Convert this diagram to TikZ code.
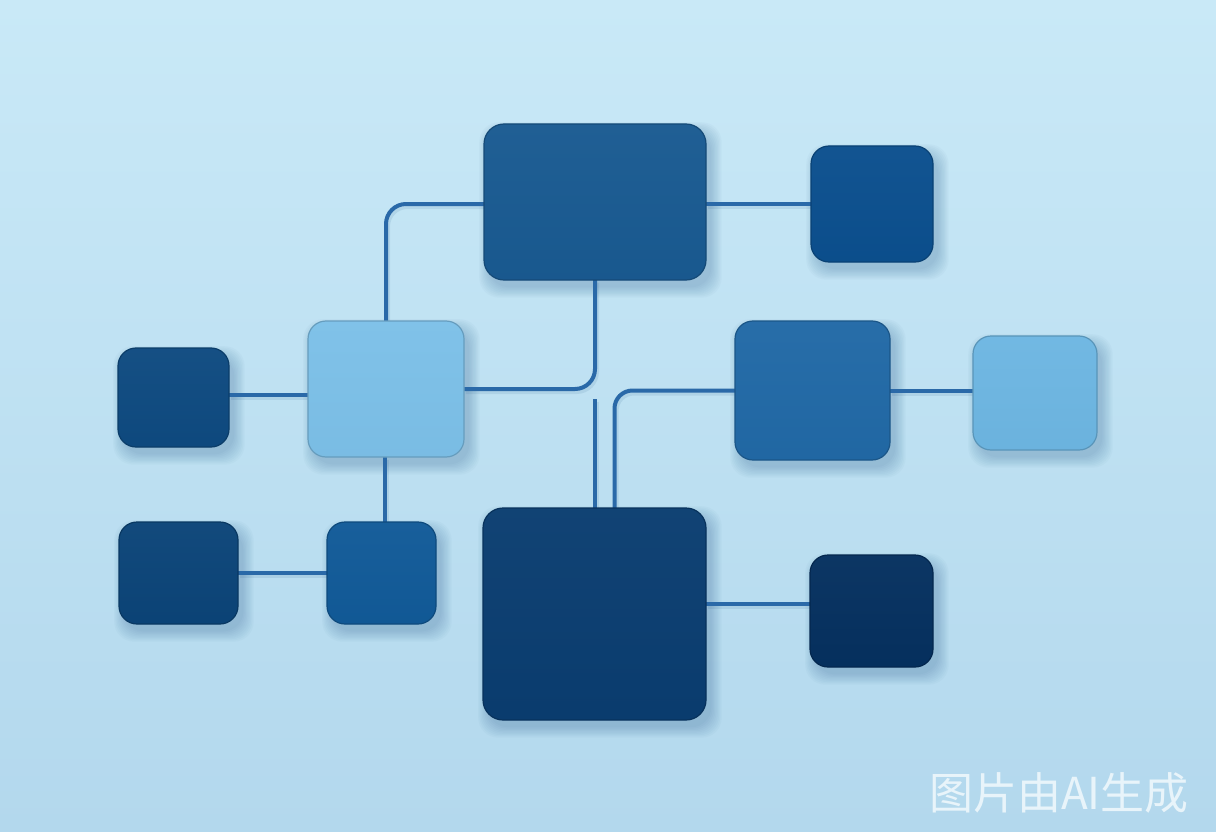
\documentclass[tikz,border=0pt]{standalone}
\usepackage{fontspec}
\newfontfamily\cjk{Noto Sans CJK SC}
\pgfdeclarelayer{bg}
\pgfdeclarelayer{shad}
\pgfdeclarelayer{lines}
\pgfsetlayers{bg,shad,lines,main}
\definecolor{bgtop}{HTML}{C9E9F7}
\definecolor{bgbot}{HTML}{B3D8ED}
\definecolor{linec}{HTML}{2A69A8}
\definecolor{shadc}{HTML}{1A4F80}
\definecolor{wmc}{HTML}{E8F4FA}
\definecolor{cTop}{HTML}{195A91}
\definecolor{cTR}{HTML}{0B4F8E}
\definecolor{cLight}{HTML}{7CC0E8}
\definecolor{cFL}{HTML}{0E4A80}
\definecolor{cMR}{HTML}{2169A6}
\definecolor{cFR}{HTML}{6DB6E2}
\definecolor{cBL}{HTML}{0B4478}
\definecolor{cBML}{HTML}{115A98}
\definecolor{cBB}{HTML}{0A3D70}
\definecolor{cBR}{HTML}{05305F}
\tikzset{
  box/.style={rectangle, rounded corners=18pt, inner sep=0pt, outer sep=0pt, anchor=north west,
    top color=#1!97!white, bottom color=#1!98!black, draw=#1!82!black, line width=1.2pt},
  conn/.style={draw=linec, line width=4pt},
  connsh/.style={draw=shadc, opacity=0.10, line width=5pt},
  shadowpiece/.style={fill=shadc, opacity=0.028, rounded corners=20pt}
}
\begin{document}
\begin{tikzpicture}[x=1pt, y=-1pt]
\begin{pgfonlayer}{bg}
\shade[top color=bgtop, bottom color=bgbot] (0,0) rectangle (1216,832);
\end{pgfonlayer}
\useasboundingbox (0,0) rectangle (1216,832);

\node[box=cTop, minimum width=222pt, minimum height=156pt, rounded corners=20pt] (top) at (484,124) {};
\node[box=cTR, minimum width=122pt, minimum height=116pt] (tr) at (811,146) {};
\node[box=cLight, minimum width=156pt, minimum height=136pt] (light) at (308,321) {};
\node[box=cFL, minimum width=111pt, minimum height=99pt] (fl) at (118,348) {};
\node[box=cMR, minimum width=155pt, minimum height=139pt] (mr) at (735,321) {};
\node[box=cFR, minimum width=124pt, minimum height=114pt] (fr) at (973,336) {};
\node[box=cBL, minimum width=119pt, minimum height=102pt] (bl) at (119,522) {};
\node[box=cBML, minimum width=109pt, minimum height=102pt] (bml) at (327,522) {};
\node[box=cBB, minimum width=223pt, minimum height=212pt, rounded corners=20pt] (bb) at (483,508) {};
\node[box=cBR, minimum width=123pt, minimum height=112pt] (br) at (810,555) {};

\coordinate (midstart) at (595,399);

\begin{pgfonlayer}{shad}
\foreach \n in {top,tr,light,fl,mr,fr,bl,bml,bb,br}{
  \foreach \i in {1,...,9}{
    \fill[shadowpiece]
      ([xshift={6pt-\i*1.2pt}, yshift={-9pt+\i*1.2pt}]\n.north west)
      rectangle ([xshift={4pt+\i*1.3pt}, yshift={-6pt-\i*1.3pt}]\n.south east);
  }
}
\end{pgfonlayer}

\begin{pgfonlayer}{lines}
\begin{scope}[transform canvas={xshift=1.5pt, yshift=-2.5pt}]
\draw[connsh, rounded corners=20pt] (light.north) |- ([yshift=-2pt]top.west);
\draw[connsh] ([yshift=-2pt]top.east) -- ([yshift=-2pt]top.east -| tr.west);
\draw[connsh, rounded corners=20pt] (top.south) |- (light.east);
\draw[connsh] (midstart) -- (midstart |- bb.north);
\draw[connsh, rounded corners=18pt] ([xshift=20pt]bb.north) |- (mr.west);
\draw[connsh] ([yshift=2.5pt]fl.east) -- ([yshift=2.5pt]fl.east -| light.west);
\draw[connsh] ([xshift=-1pt]light.south) -- ([xshift=-1pt]light.south |- bml.north);
\draw[connsh] (bl.east) -- (bl.east -| bml.west);
\draw[connsh] (mr.east) -- (mr.east -| fr.west);
\draw[connsh] ([yshift=7pt]br.west) -- ([yshift=7pt]br.west -| bb.east);
\end{scope}
\draw[conn, rounded corners=20pt] (light.north) |- ([yshift=-2pt]top.west);
\draw[conn] ([yshift=-2pt]top.east) -- ([yshift=-2pt]top.east -| tr.west);
\draw[conn, rounded corners=20pt] (top.south) |- (light.east);
\draw[conn] (midstart) -- (midstart |- bb.north);
\draw[conn, rounded corners=18pt] ([xshift=20pt]bb.north) |- (mr.west);
\draw[conn] ([yshift=2.5pt]fl.east) -- ([yshift=2.5pt]fl.east -| light.west);
\draw[conn] ([xshift=-1pt]light.south) -- ([xshift=-1pt]light.south |- bml.north);
\draw[conn] (bl.east) -- (bl.east -| bml.west);
\draw[conn] (mr.east) -- (mr.east -| fr.west);
\draw[conn] ([yshift=7pt]br.west) -- ([yshift=7pt]br.west -| bb.east);
\end{pgfonlayer}

\node[anchor=west, inner sep=0pt, text=wmc, font=\cjk\fontsize{44}{44}\selectfont] (wm) at (929,793) {图片由AI生成};
\end{tikzpicture}
\end{document}
